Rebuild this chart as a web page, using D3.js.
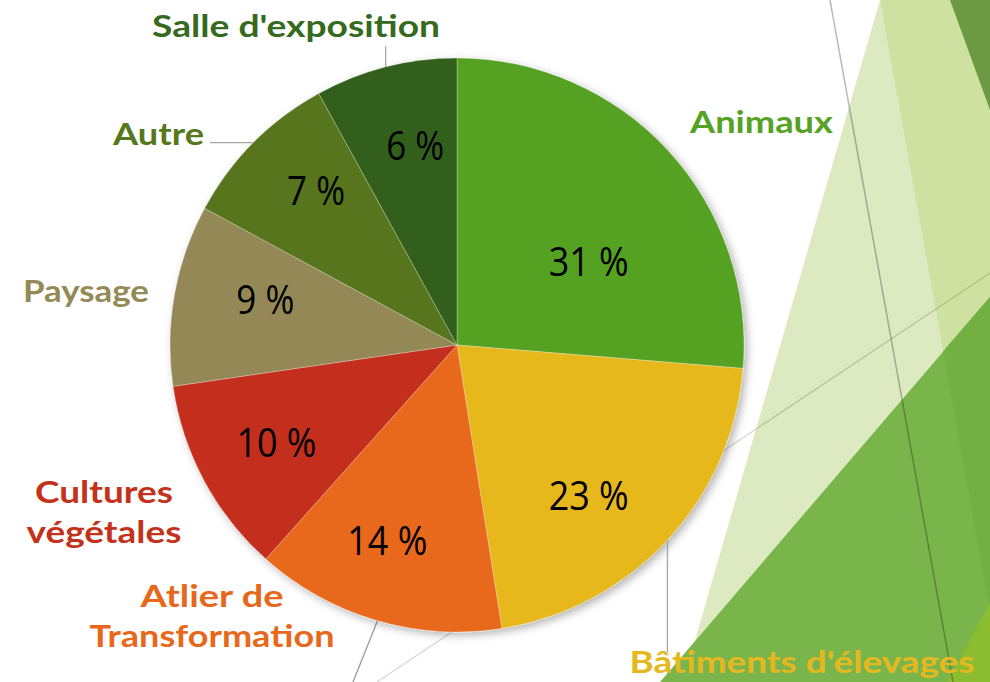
<!DOCTYPE html>
<html><head><meta charset="utf-8">
<script src="https://cdn.jsdelivr.net/npm/d3@7"></script>
<style>html,body{margin:0;padding:0;background:#fff;overflow:hidden}</style>
</head><body>
<svg id="c" width="990" height="682"></svg>
<script>
// ---------- data ----------
const categories = ["Animaux", "Bâtiments d'élevages", "Atlier de Transformation", "Cultures végétales", "Paysage", "Autre", "Salle d'exposition"];
const values = [26.3, 21.2, 14.1, 11.1, 10.2, 9.1, 8.0];
const pctLabels = ["31 %", "23 %", "14 %", "10 %", "9 %", "7 %", "6 %"];
const nameLines = [["Animaux"], ["Bâtiments d'élevages"], ["Atlier de", "Transformation"], ["Cultures", "végétales"], ["Paysage"], ["Autre"], ["Salle d'exposition"]];

// ---------- styles / layout ----------
const sliceColors = ["#55a224", "#e6b81f", "#e8671a", "#c42f1a", "#938857", "#56751b", "#31611a"];
const nameColors  = ["#55a224", "#e6b820", "#e8681b", "#c4321b", "#948a56", "#56781d", "#356a1f"];
const W = 990, H = 682, cx = 457, cy = 345, R = 287;
const pctNudge = [[10.2,156],[6,200],[3.3,207],[0,205],[3.3,197],[2.8,209],[2.6,204]];
const nameAnchor = [[304.5,-212],[345,328],[-245,262],[-353,158],[-371,-43],[-298.5,-200],[-161,-308]];
const nameWidths = [[143],[345],[143,245],[138,155],[126],[91],[288]];
const leaderEnd = {1:["y",308], 5:["x",-247], 6:["y",-299]};

const svg = d3.select("#c");
const defs = svg.append("defs");
const f = defs.append("filter").attr("id","sh").attr("x","-20%").attr("y","-20%").attr("width","140%").attr("height","140%");
f.append("feDropShadow").attr("dx",3).attr("dy",3).attr("stdDeviation",4).attr("flood-color","#000").attr("flood-opacity",0.3);

// ---------- background decoration ----------
const bg = svg.append("g");
const poly = (pts, fill) => bg.append("polygon").attr("points", pts.map(p=>p.join(",")).join(" ")).attr("fill", fill);
poly([[880,0],[990,0],[990,682],[683,682]], "#dde9c0");
poly([[880,0],[990,0],[990,682],[1003,682]], "#cfe1a0");
poly([[950,0],[990,0],[990,110]], "#6b9a42");
poly([[990,297],[990,682],[660,682]], "#7ab54c");
poly([[943,351.5],[990,297],[990,611]], "#73b044");
poly([[990,603],[990,682],[947,682]], "#8cbc30");
bg.append("line").attr("x1",830).attr("y1",0).attr("x2",953).attr("y2",682).attr("stroke","#000").attr("stroke-opacity",0.27).attr("stroke-width",1.5);
bg.append("line").attr("x1",990).attr("y1",273).attr("x2",377).attr("y2",682).attr("stroke","#000").attr("stroke-opacity",0.16).attr("stroke-width",1.3);
bg.append("line").attr("x1",389).attr("y1",592).attr("x2",353).attr("y2",682).attr("stroke","#999").attr("stroke-width",1.3);

// ---------- pie ----------
const g = svg.append("g").attr("transform", `translate(${cx},${cy})`);
const pie = d3.pie().sort(null).value(d => d);
const arcs = pie(values);
const arc = d3.arc().innerRadius(0).outerRadius(R);
g.append("g").attr("filter","url(#sh)")
  .selectAll("path").data(arcs).join("path")
  .attr("d", arc).attr("fill", (d,i) => sliceColors[i])
  .attr("stroke", "#fff").attr("stroke-opacity", 0.35).attr("stroke-width", 0.8);

// percent labels
g.selectAll("text.pct").data(arcs).join("text").attr("class","pct")
  .each(function(d,i){
    const mid = (d.startAngle + d.endAngle)/2 + pctNudge[i][0]*Math.PI/180;
    const [x,y] = d3.pointRadial(mid, pctNudge[i][1]);
    const t = d3.select(this).attr("x",x).attr("y",y).attr("dy","0.36em")
      .attr("text-anchor","middle").attr("font-family","'Open Sans', 'Noto Sans', sans-serif")
      .attr("font-size",41).attr("fill","#000").text(pctLabels[i]);
    const target = 22*pctLabels[i].length - 8;
    t.attr("textLength", target).attr("lengthAdjust","spacingAndGlyphs");
  });

// leader lines
arcs.forEach((d,i) => {
  if (!leaderEnd[i]) return;
  const mid = (d.startAngle + d.endAngle)/2;
  const [x0,y0] = d3.pointRadial(mid, R);
  const [ax, v] = leaderEnd[i];
  const x1 = ax === "x" ? v : x0, y1 = ax === "y" ? v : y0;
  g.append("line").attr("x1",x0).attr("y1",y0).attr("x2",x1).attr("y2",y1)
    .attr("stroke","#a6a6a6").attr("stroke-width",1.3);
});

// category labels
categories.forEach((c,i) => {
  const [dx,dy] = nameAnchor[i];
  nameLines[i].forEach((ln,j) => {
    g.append("text").attr("x",dx).attr("y",dy + j*40)
      .attr("text-anchor","middle").attr("font-family","Lato, 'Open Sans', sans-serif")
      .attr("font-weight","bold").attr("font-size",31).attr("fill",nameColors[i])
      .attr("textLength", nameWidths[i][j]).attr("lengthAdjust","spacingAndGlyphs")
      .text(ln);
  });
});
</script>
</body></html>
